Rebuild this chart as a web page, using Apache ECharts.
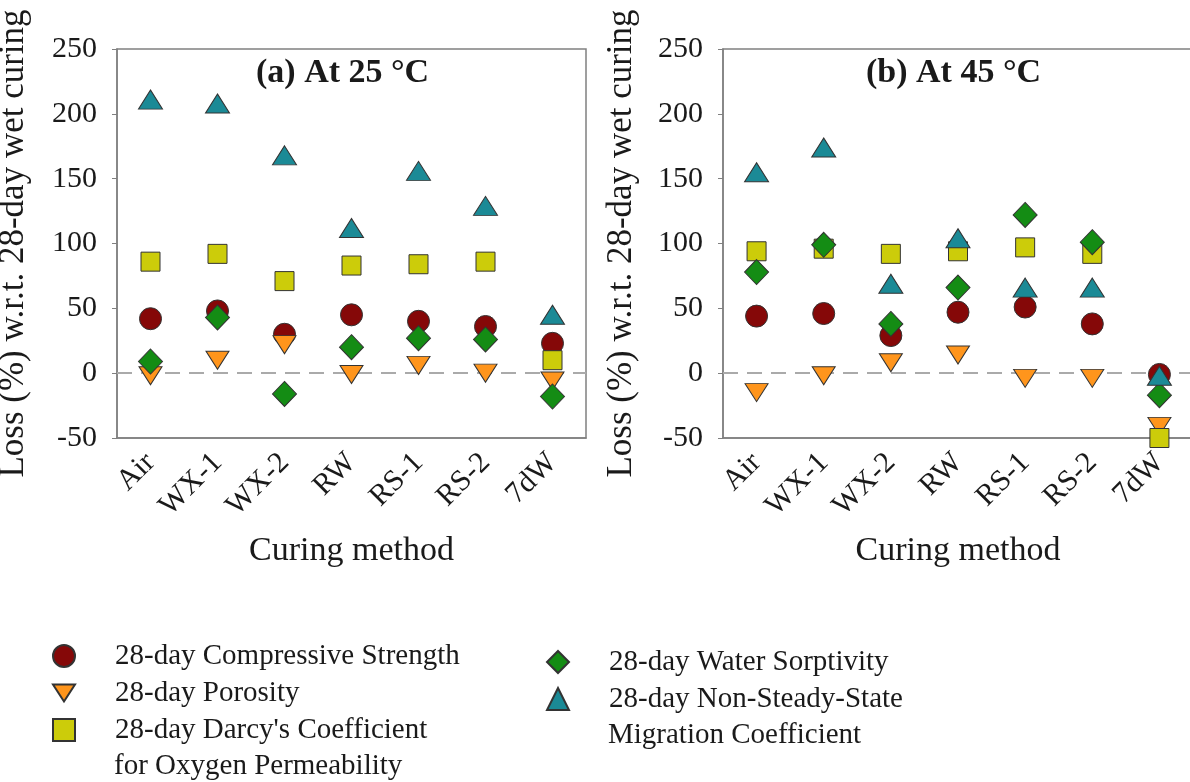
<!DOCTYPE html>
<html>
<head>
<meta charset="utf-8">
<script src="https://cdn.jsdelivr.net/npm/echarts@6/dist/echarts.min.js"></script>
<style>
  html, body { margin: 0; padding: 0; background: #fff; }
  #chart { width: 1190px; height: 782px; }
</style>
</head>
<body>
<div id="chart"></div>
<script>
// curing methods (x categories)
const methods = ['Air', 'WX-1', 'WX-2', 'RW', 'RS-1', 'RS-2', '7dW']
const yTicks = [-50, 0, 50, 100, 150, 200, 250]

// (a) at 25 °C, loss (%) w.r.t. 28-day wet curing
const strength25 = [42, 48, 30, 45, 40, 36, 23]
const porosity25 = [-2, 10, 22, -1, 6, 0, -6]
const darcy25 = [86, 92, 71, 83, 84, 86, 10]
const sorptivity25 = [9, 43, -16, 20, 27, 26, -18]
const migration25 = [211, 208, 168, 112, 156, 129, 45]

// (b) at 45 °C
const strength45 = [44, 46, 29, 47, 51, 38, -1]
const porosity45 = [-15, -2, 8, 14, -4, -4, -41]
const darcy45 = [94, 96, 92, 94, 97, 92, -50]
const sorptivity45 = [78, 99, 38, 66, 122, 101, -17]
const migration45 = [155, 174, 69, 104, 66, 66, -2]

const names = [
  '28-day Compressive Strength',
  '28-day Porosity',
  "28-day Darcy's Coefficient for Oxygen Permeability",
  '28-day Water Sorptivity',
  '28-day Non-Steady-State Migration Coefficient'
]
// first line shown in the legend, the rest goes on a second line
const legendFirst = {
  [names[2]]: "28-day Darcy's Coefficient",
  [names[4]]: '28-day Non-Steady-State'
}

const font = "'Liberation Serif', 'Times New Roman', serif"
const ink = '#1a1a1a'
const frame = '#808080'

const looks = [
  { symbol: 'circle', size: 22, color: '#850808' },
  { symbol: 'path://M0,0L22,0L11,17Z', size: [23, 18], color: '#ff951c' },
  { symbol: 'rect', size: 19, color: '#cccc0a' },
  { symbol: 'diamond', size: [24, 25], color: '#148c14' },
  { symbol: 'triangle', size: [24, 19], color: '#1b8a96' }
]

const chart = echarts.init(document.getElementById('chart'))

function makeAxes(idx, nameGapY) {
  const x = {
    type: 'category',
    gridIndex: idx,
    data: methods,
    name: 'Curing method',
    nameLocation: 'middle',
    nameGap: 96,
    nameTextStyle: { fontFamily: font, fontSize: 34, color: ink },
    axisLine: { onZero: false, lineStyle: { color: frame, width: 1.5 } },
    axisTick: { alignWithLabel: true, length: 5, lineStyle: { color: frame } },
    axisLabel: { rotate: 45, margin: 20, fontFamily: font, fontSize: 30, color: ink, interval: 0 },
    splitLine: { show: false }
  }
  const y = {
    type: 'value',
    gridIndex: idx,
    min: yTicks[0],
    max: yTicks[yTicks.length - 1],
    interval: 50,
    name: 'Loss (%) w.r.t. 28-day wet curing',
    nameLocation: 'middle',
    nameRotate: 90,
    nameGap: nameGapY,
    nameTextStyle: { fontFamily: font, fontSize: 35, color: ink },
    axisLine: { show: true, lineStyle: { color: frame, width: 1.5 } },
    axisTick: { show: true, length: 5, lineStyle: { color: frame } },
    axisLabel: { margin: 20, fontFamily: font, fontSize: 30, color: ink },
    splitLine: { show: false }
  }
  return [x, y]
}

function makeSeries(idx, panel) {
  return panel.map((values, i) => {
    const s = {
      name: names[i],
      type: 'scatter',
      xAxisIndex: idx,
      yAxisIndex: idx,
      symbol: looks[i].symbol,
      symbolSize: looks[i].size,
      itemStyle: { color: looks[i].color, borderColor: '#333', borderWidth: 1, opacity: 1 },
      emphasis: { disabled: true },
      data: values
    }
    if (i === 0) {
      // zero reference line
      s.markLine = {
        silent: true,
        z: 1,
        symbol: ['none', 'none'],
        label: { show: false },
        lineStyle: { color: '#aaaaaa', width: 2, type: [15, 9] },
        data: [{ yAxis: 0 }]
      }
    }
    return s
  })
}

const [xa, ya] = makeAxes(0, 86)
const [xb, yb] = makeAxes(1, 84)

const legendBase = {
  orient: 'vertical',
  padding: 0,
  itemWidth: 22,
  itemHeight: 22,
  itemGap: 7,
  selectedMode: false,
  textStyle: {
    fontFamily: font, fontSize: 29, color: ink, lineHeight: 30,
    rich: { t: { fontFamily: font, fontSize: 29, color: ink, lineHeight: 30, padding: [0, 0, 0, 35] } }
  },
  formatter: n => '{t|' + (legendFirst[n] || n) + '}'
}

const option = {
  backgroundColor: '#fff',
  animation: false,
  title: [
    { text: '(a) At 25 °C', left: 256, top: 56, padding: 0,
      textStyle: { fontFamily: font, fontSize: 34, fontWeight: 'bold', color: ink } },
    { text: '(b) At 45 °C', left: 866, top: 56, padding: 0,
      textStyle: { fontFamily: font, fontSize: 34, fontWeight: 'bold', color: ink } }
  ],
  grid: [
    { left: 117, top: 49, width: 469, height: 389, outerBoundsMode: 'none', containLabel: false,
      show: true, borderColor: frame, borderWidth: 1.5 },
    { left: 723, top: 49, width: 470, height: 389, outerBoundsMode: 'none', containLabel: false,
      show: true, borderColor: frame, borderWidth: 1.5 }
  ],
  xAxis: [xa, xb],
  yAxis: [ya, yb],
  legend: [
    Object.assign({}, legendBase, { left: 52, top: 641, data: names.slice(0, 3) }),
    Object.assign({}, legendBase, { left: 546, top: 647, data: names.slice(3) })
  ],
  graphic: [
    { type: 'text', left: 114, top: 752,
      style: { text: 'for Oxygen Permeability', font: '29px ' + font, fill: ink } },
    { type: 'text', left: 608, top: 721,
      style: { text: 'Migration Coefficient', font: '29px ' + font, fill: ink } }
  ],
  series: [
    ...makeSeries(0, [strength25, porosity25, darcy25, sorptivity25, migration25]),
    ...makeSeries(1, [strength45, porosity45, darcy45, sorptivity45, migration45])
  ]
}

chart.setOption(option)
</script>
</body>
</html>
